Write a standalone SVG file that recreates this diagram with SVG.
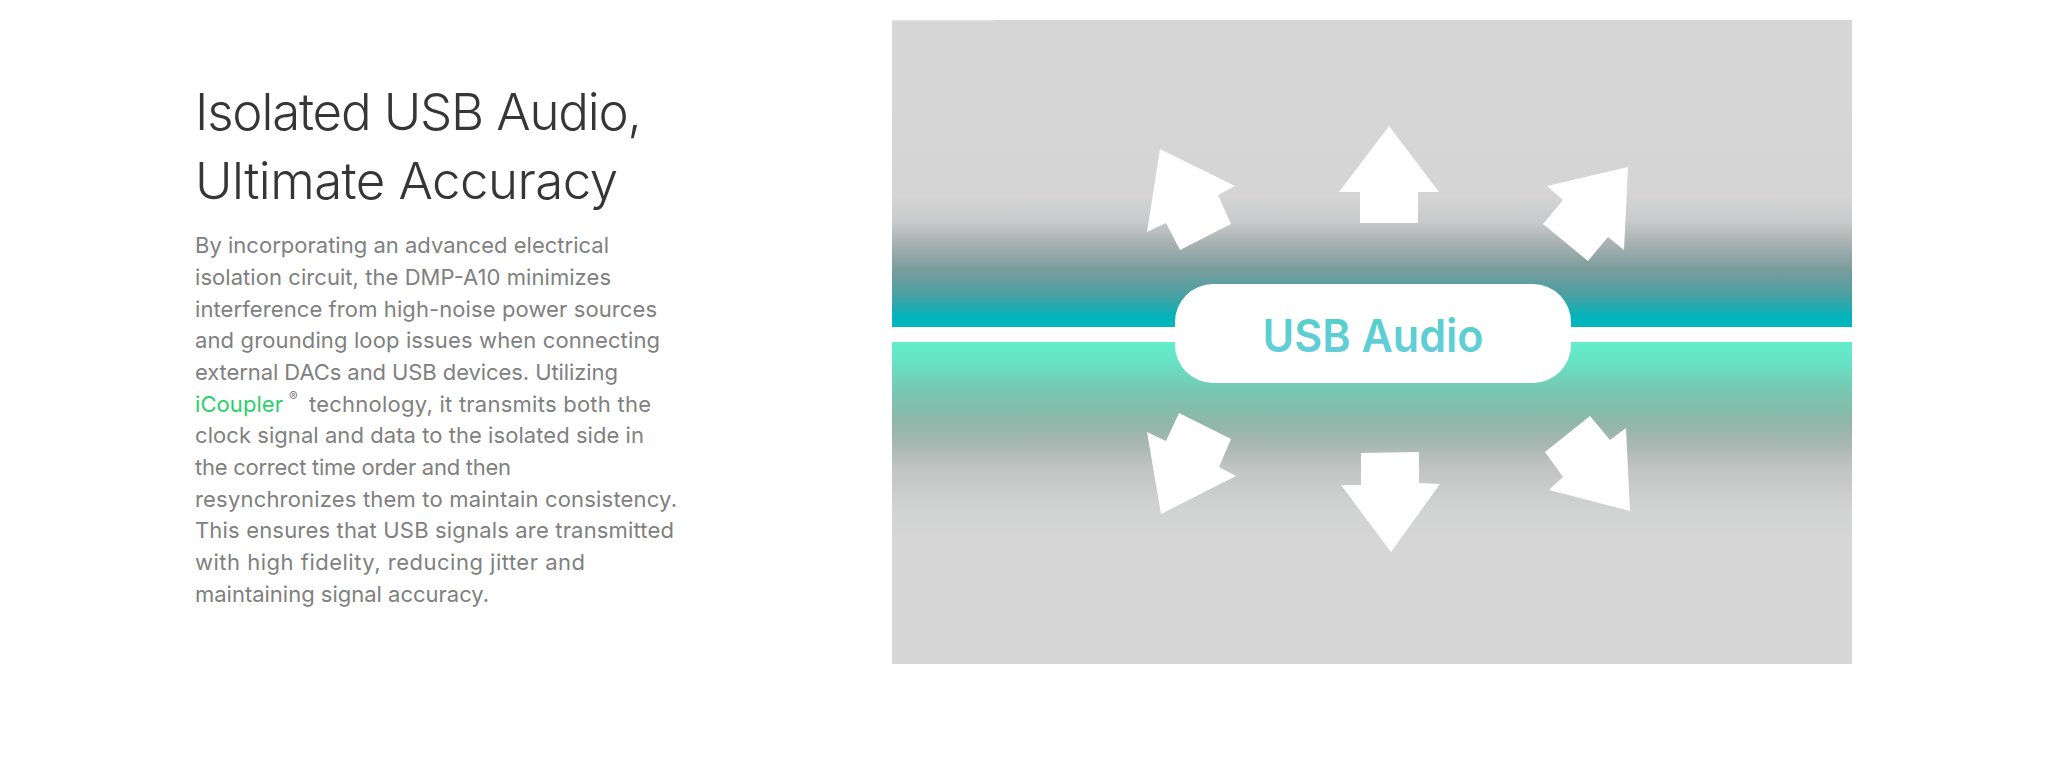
<svg xmlns="http://www.w3.org/2000/svg" width="2048" height="778" viewBox="0 0 2048 778">
  <style>
    .title { font-family: Inter, "Open Sans", "Liberation Sans", sans-serif; font-weight: 300; font-size: 51px; fill: #363636; }
    .body { font-family: Inter, "Open Sans", "Liberation Sans", sans-serif; font-weight: 400; font-size: 22px; fill: #808080; }
    .green { fill: #2ccf6c; }
    .arrow { fill: #ffffff; }
    .pilltext { font-family: Inter, "Liberation Sans", sans-serif; font-weight: 600; font-size: 45px; }
  </style>
  <defs>
    <linearGradient id="gTop" gradientUnits="userSpaceOnUse" x1="0" y1="20" x2="0" y2="327">
      <stop offset="0" stop-color="#d6d6d6"/>
      <stop offset="0.57" stop-color="#d5d5d5"/>
      <stop offset="0.655" stop-color="#c9cacb"/>
      <stop offset="0.725" stop-color="#aab2b2"/>
      <stop offset="0.81" stop-color="#7c9c9d"/>
      <stop offset="0.896" stop-color="#4aa0a2"/>
      <stop offset="0.97" stop-color="#00b4bb"/>
      <stop offset="1" stop-color="#00b6bc"/>
    </linearGradient>
    <linearGradient id="gBot" gradientUnits="userSpaceOnUse" x1="0" y1="342" x2="0" y2="664">
      <stop offset="0" stop-color="#64eecb"/>
      <stop offset="0.062" stop-color="#66e2c5"/>
      <stop offset="0.155" stop-color="#78c6b0"/>
      <stop offset="0.248" stop-color="#8fb7a9"/>
      <stop offset="0.31" stop-color="#a6b6b0"/>
      <stop offset="0.404" stop-color="#c4c6c5"/>
      <stop offset="0.528" stop-color="#d2d3d3"/>
      <stop offset="0.62" stop-color="#d6d6d6"/>
      <stop offset="1" stop-color="#d6d6d6"/>
    </linearGradient>
    <linearGradient id="gText" x1="0" y1="0" x2="0" y2="1">
      <stop offset="0" stop-color="#4fd1c6"/>
      <stop offset="1" stop-color="#6acce0"/>
    </linearGradient>
  </defs>

  <rect width="2048" height="778" fill="#ffffff"/>

  <g id="heading">
    <text class="title" x="195" y="130" textLength="447" lengthAdjust="spacing">Isolated USB Audio,</text>
    <text class="title" x="195" y="199" textLength="423" lengthAdjust="spacing">Ultimate Accuracy</text>
  </g>

  <g id="description">
    <text class="body" x="195" y="253" textLength="414" lengthAdjust="spacing">By incorporating an advanced electrical</text>
    <text class="body" x="195" y="285" textLength="416" lengthAdjust="spacing">isolation circuit, the DMP-A10 minimizes</text>
    <text class="body" x="195" y="316.5" textLength="462" lengthAdjust="spacing">interference from high-noise power sources</text>
    <text class="body" x="195" y="348" textLength="465" lengthAdjust="spacing">and grounding loop issues when connecting</text>
    <text class="body" x="195" y="380" textLength="423" lengthAdjust="spacing">external DACs and USB devices. Utilizing</text>
    <text class="body green" x="195" y="411.5" textLength="88" lengthAdjust="spacing">iCoupler</text>
    <text class="body" x="289" y="401" style="font-size:13px">®</text>
    <text class="body" x="309" y="411.5" textLength="342" lengthAdjust="spacing">technology, it transmits both the</text>
    <text class="body" x="195" y="443" textLength="449" lengthAdjust="spacing">clock signal and data to the isolated side in</text>
    <text class="body" x="195" y="475" textLength="316" lengthAdjust="spacing">the correct time order and then</text>
    <text class="body" x="195" y="506.5" textLength="482" lengthAdjust="spacing">resynchronizes them to maintain consistency.</text>
    <text class="body" x="195" y="538" textLength="479" lengthAdjust="spacing">This ensures that USB signals are transmitted</text>
    <text class="body" x="195" y="570" textLength="390" lengthAdjust="spacing">with high fidelity, reducing jitter and</text>
    <text class="body" x="195" y="601.5" textLength="294" lengthAdjust="spacing">maintaining signal accuracy.</text>
  </g>

  <g id="panel">
    <rect x="892" y="20" width="960" height="307" fill="url(#gTop)"/>
    <rect x="892" y="342" width="960" height="322" fill="url(#gBot)"/>
    <rect x="892" y="20" width="101" height="2" fill="#dedede"/>
  </g>

  <g id="arrows">
    <polygon class="arrow" points="1160,149 1235,186 1218,195 1231,224 1180,250 1166,223 1147,232"/>
    <polygon class="arrow" points="1389,126 1439,192 1418,192 1418,223 1360,223 1360,192 1339,192"/>
    <polygon class="arrow" points="1628,167 1624,250 1608,237 1588,261 1543,224 1563,200 1547,186"/>
    <polygon class="arrow" points="1179,413 1231,439 1219,467 1236,476 1161,514 1147,432 1166,441"/>
    <polygon class="arrow" points="1361,453 1419,452 1419,483 1440,484 1391,552 1341,485 1361,485"/>
    <polygon class="arrow" points="1590,416 1610,440 1626,428 1630,511 1549,490 1563,477 1545,452"/>
  </g>

  <g id="usb-audio">
    <rect x="1175" y="284" width="396" height="99" rx="38" ry="38" fill="#ffffff"/>
    <text class="pilltext" x="1373" y="352" text-anchor="middle" textLength="221" lengthAdjust="spacingAndGlyphs" fill="url(#gText)">USB Audio</text>
  </g>
</svg>
